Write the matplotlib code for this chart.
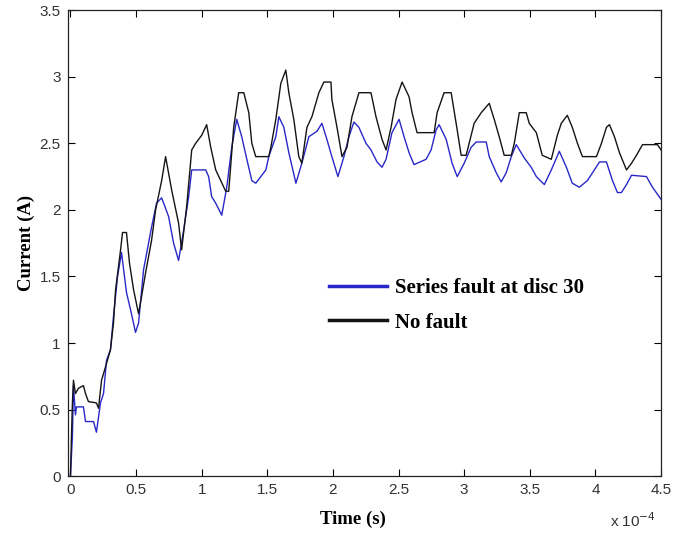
import matplotlib.pyplot as plt
from matplotlib.lines import Line2D

# time in units of 1e-4 s, current in A
t_nofault = [0.0, 0.008, 0.015, 0.023, 0.038, 0.061, 0.099, 0.115, 0.137, 0.198,
             0.214, 0.237, 0.267, 0.305, 0.328, 0.344, 0.382, 0.397, 0.427, 0.450,
             0.481, 0.519, 0.542, 0.573, 0.618, 0.649, 0.695, 0.725, 0.771, 0.824,
             0.847, 0.885, 0.924, 0.954, 1.0, 1.038, 1.069, 1.107, 1.145, 1.183,
             1.206, 1.244, 1.282, 1.321, 1.359, 1.382, 1.412, 1.511, 1.527, 1.565,
             1.603, 1.641, 1.664, 1.702, 1.740, 1.763, 1.802, 1.840, 1.893, 1.931,
             1.985, 1.992, 2.031, 2.069, 2.107, 2.145, 2.198, 2.290, 2.328, 2.374,
             2.405, 2.443, 2.481, 2.527, 2.580, 2.603, 2.641, 2.771, 2.794, 2.847,
             2.901, 2.947, 2.977, 3.015, 3.038, 3.076, 3.130, 3.191, 3.229, 3.267,
             3.305, 3.359, 3.382, 3.420, 3.473, 3.496, 3.550, 3.595, 3.664, 3.710,
             3.740, 3.786, 3.824, 3.863, 3.901, 4.008, 4.046, 4.084, 4.107, 4.145,
             4.183, 4.237, 4.275, 4.313, 4.359, 4.473, 4.5]
i_nofault = [0.0, 0.3, 0.55, 0.72, 0.62, 0.66, 0.68, 0.62, 0.56, 0.55,
             0.51, 0.72, 0.82, 0.95, 1.15, 1.4, 1.7, 1.83, 1.83, 1.6,
             1.4, 1.22, 1.35, 1.53, 1.77, 2.0, 2.22, 2.40, 2.15, 1.90,
             1.70, 2.02, 2.45, 2.5, 2.56, 2.64, 2.47, 2.3, 2.22, 2.14,
             2.14, 2.62, 2.88, 2.88, 2.73, 2.5, 2.4, 2.4, 2.47, 2.68,
             2.95, 3.05, 2.88, 2.68, 2.4, 2.35, 2.62, 2.7, 2.88, 2.96,
             2.96, 2.83, 2.62, 2.4, 2.47, 2.7, 2.88, 2.88, 2.7, 2.53,
             2.45, 2.62, 2.83, 2.96, 2.85, 2.73, 2.58, 2.58, 2.73, 2.88,
             2.88, 2.6, 2.41, 2.41, 2.5, 2.65, 2.73, 2.8, 2.68, 2.55,
             2.41, 2.41, 2.5, 2.73, 2.73, 2.65, 2.58, 2.41, 2.38, 2.56,
             2.65, 2.71, 2.62, 2.5, 2.4, 2.4, 2.5, 2.62, 2.64, 2.55,
             2.43, 2.3, 2.35, 2.41, 2.49, 2.49, 2.45]

t_fault = [0.0, 0.015, 0.023, 0.038, 0.046, 0.099, 0.115, 0.176, 0.198, 0.229,
           0.252, 0.275, 0.305, 0.328, 0.359, 0.389, 0.427, 0.458, 0.496, 0.519,
           0.557, 0.618, 0.656, 0.695, 0.748, 0.786, 0.824, 0.863, 0.901, 0.924,
           1.031, 1.053, 1.076, 1.107, 1.153, 1.191, 1.229, 1.267, 1.305, 1.344,
           1.382, 1.412, 1.489, 1.511, 1.565, 1.588, 1.626, 1.664, 1.718, 1.763,
           1.817, 1.878, 1.916, 1.954, 1.992, 2.038, 2.084, 2.122, 2.160, 2.198,
           2.252, 2.290, 2.336, 2.374, 2.405, 2.450, 2.504, 2.542, 2.580, 2.618,
           2.710, 2.748, 2.786, 2.809, 2.863, 2.908, 2.947, 3.0, 3.053, 3.092,
           3.168, 3.191, 3.244, 3.282, 3.321, 3.359, 3.397, 3.458, 3.511, 3.550,
           3.611, 3.664, 3.725, 3.779, 3.824, 3.878, 3.939, 3.992, 4.031, 4.084,
           4.130, 4.168, 4.198, 4.237, 4.275, 4.389, 4.435, 4.5]
i_fault = [0.0, 0.3, 0.68, 0.46, 0.52, 0.52, 0.41, 0.41, 0.33, 0.55,
           0.62, 0.87, 0.95, 1.2, 1.5, 1.68, 1.38, 1.25, 1.08, 1.15,
           1.55, 1.87, 2.05, 2.09, 1.95, 1.75, 1.62, 1.85, 2.1, 2.3,
           2.3, 2.25, 2.1, 2.05, 1.96, 2.17, 2.47, 2.68, 2.55, 2.38,
           2.22, 2.2, 2.3, 2.4, 2.55, 2.7, 2.62, 2.43, 2.2, 2.35,
           2.55, 2.59, 2.65, 2.53, 2.4, 2.25, 2.4, 2.55, 2.66, 2.62,
           2.5, 2.45, 2.36, 2.32, 2.38, 2.58, 2.68, 2.55, 2.43, 2.34,
           2.38, 2.45, 2.6, 2.64, 2.53, 2.35, 2.25, 2.35, 2.47, 2.51,
           2.51, 2.4, 2.28, 2.21, 2.28, 2.4, 2.49, 2.39, 2.32, 2.25,
           2.19, 2.3, 2.44, 2.32, 2.2, 2.17, 2.22, 2.3, 2.36, 2.36,
           2.22, 2.13, 2.13, 2.19, 2.26, 2.25, 2.17, 2.08]

labels = ["Series fault at disc 30", "No fault"]
blue = "#2828c8"
black = "#141414"

fig = plt.figure(figsize=(6.85, 5.35), dpi=100)
ax = fig.add_axes([0.099, 0.110, 0.866, 0.871])

ax.plot(t_fault, i_fault, color=blue, lw=1.0)
ax.plot(t_nofault, i_nofault, color=black, lw=1.0)

ax.set_xlim(-0.02, 4.5)
ax.set_ylim(0, 3.5)
ax.set_xticks([0, 0.5, 1, 1.5, 2, 2.5, 3, 3.5, 4, 4.5])
ax.set_xticklabels(["0", "0.5", "1", "1.5", "2", "2.5", "3", "3.5", "4", "4.5"])
ax.set_yticks([0, 0.5, 1, 1.5, 2, 2.5, 3, 3.5])
ax.set_yticklabels(["0", "0.5", "1", "1.5", "2", "2.5", "3", "3.5"])
ax.tick_params(direction="in", length=5, width=0.8, top=True, right=True,
               labelsize=11, labelcolor="#333333", pad=5)
for lab in ax.get_xticklabels() + ax.get_yticklabels():
    lab.set_fontfamily("Liberation Sans")
for s in ax.spines.values():
    s.set_linewidth(0.9)
    s.set_color("#222222")

ax.set_xlabel("Time (s)", family="Liberation Serif", weight="bold", size=13.5)
ax.set_ylabel("Current (A)", family="Liberation Serif", weight="bold", size=13.5)
ax.xaxis.set_label_coords(0.48, -0.075)
ax.yaxis.set_label_coords(-0.056, 0.5)
fig.text(0.957, 0.010, r"x 10$^{-4}$", ha="right", va="bottom",
         fontsize=11, family="Liberation Sans", color="#333333")

handles = [Line2D([], [], color=blue, lw=2.5), Line2D([], [], color=black, lw=2.5)]
ax.legend(handles, labels, loc="upper left", bbox_to_anchor=(0.427, 0.443),
          frameon=False, handlelength=2.75, handletextpad=0.4, labelspacing=0.7,
          borderaxespad=0, prop=dict(family="Liberation Serif", weight="bold", size=15))

fig.savefig("out.png", dpi=100)
